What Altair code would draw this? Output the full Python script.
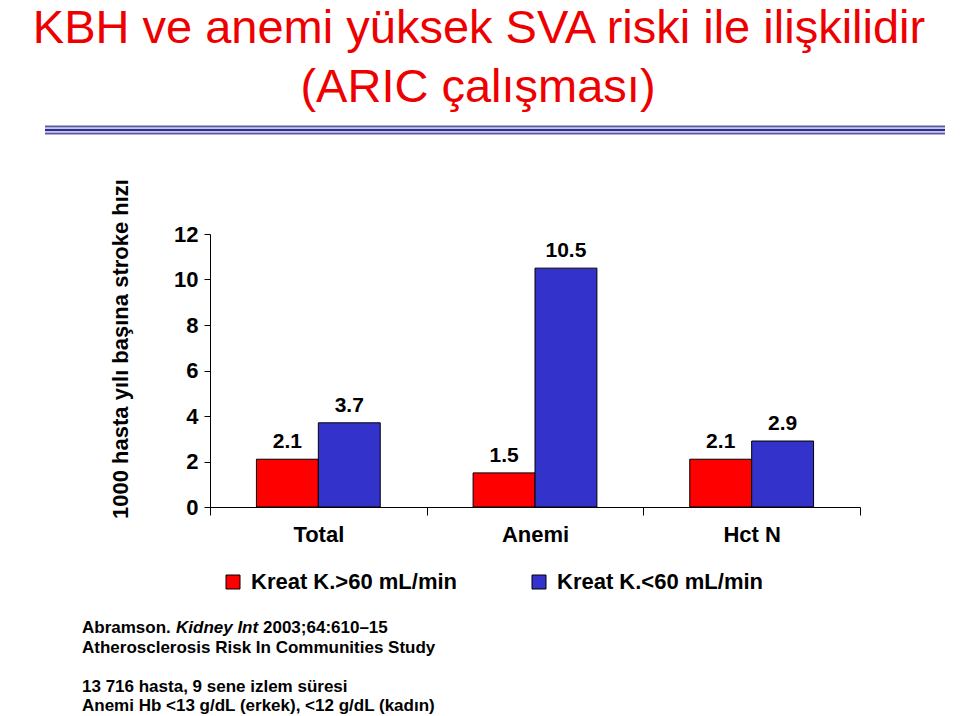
import altair as alt
import pandas as pd

categories = ["Total", "Anemi", "Hct N"]
series = ["Kreat K.>60 mL/min", "Kreat K.<60 mL/min"]
values_high = [2.1, 1.5, 2.1]
values_low = [3.7, 10.5, 2.9]
y_ticks = [0, 2, 4, 6, 8, 10, 12]
colors = ["#ff0000", "#3333cc"]

rows = []
for c, a, b in zip(categories, values_high, values_low):
    rows.append({"cat": c, "series": series[0], "val": a})
    rows.append({"cat": c, "series": series[1], "val": b})
df = pd.DataFrame(rows)

FONT = "Liberation Sans"
W, H = 650, 273
OX, OY = 210, 234  # plot origin within the page

x_enc = alt.X("cat:N", sort=categories, title=None,
              scale=alt.Scale(paddingInner=0, paddingOuter=0),
              axis=alt.Axis(tickBand="extent", labelAngle=0, labelFontSize=22,
                            labelFont=FONT, labelColor="black", labelPadding=9,
                            tickSize=8, tickColor="black", domainColor="black",
                            labelFontWeight="bold"))
xo_enc = alt.XOffset("series:N", sort=series,
                     scale=alt.Scale(paddingInner=0, paddingOuter=0.75))
y_enc = alt.Y("val:Q", title=None,
              scale=alt.Scale(domain=[0, 12], nice=False),
              axis=alt.Axis(values=y_ticks, labelFontSize=22, labelFont=FONT,
                            labelFontWeight="bold",
                            labelColor="black", tickSize=6, tickColor="black",
                            domainColor="black", grid=False, labelPadding=6))
color_enc = alt.Color("series:N", sort=series,
                      scale=alt.Scale(domain=series, range=colors),
                      legend=alt.Legend(title=None, orient="none", direction="horizontal",
                                        legendX=12, legendY=337, symbolType="square",
                                        symbolSize=196, symbolStrokeColor="black",
                                        symbolStrokeWidth=1, symbolOpacity=1,
                                        labelFontSize=22, labelFont=FONT,
                                        labelFontWeight="bold", labelColor="black",
                                        labelLimit=400, columnPadding=70,
                                        symbolOffset=0, labelOffset=7))

base = alt.Chart(df)
bars = base.mark_bar(stroke="black", strokeWidth=1, opacity=1).encode(
    x=x_enc, xOffset=xo_enc, y=y_enc, color=color_enc)
labels = base.mark_text(baseline="alphabetic", dy=-11, fontSize=21, font=FONT,
                        fontWeight="bold", color="black").encode(
    x=alt.X("cat:N", sort=categories), xOffset=xo_enc, y="val:Q",
    text=alt.Text("val:Q", format=".1f"))

one = pd.DataFrame({"k": [0]})


def txt(s, x, y, size, color="black", weight="normal", style="normal", align="left"):
    return alt.Chart(one).mark_text(text=s, fontSize=size, font=FONT, color=color,
                                    fontWeight=weight, fontStyle=style, align=align,
                                    baseline="alphabetic").encode(
        x=alt.value(x - OX), y=alt.value(y - OY))


def rule(y, color, w):
    return alt.Chart(one).mark_rule(color=color, strokeWidth=w).encode(
        x=alt.value(45 - OX), x2=alt.value(945 - OX), y=alt.value(y - OY))


annotations = [
    txt("KBH ve anemi yüksek SVA riski ile ilişkilidir", 479, 43, 47, color="#ee0000", align="center"),
    txt("(ARIC çalışması)", 478, 102, 47, color="#ee0000", align="center"),
    rule(126.5, "#5a5aa8", 2),
    rule(130, "#2a2a9a", 2.5),
    rule(133.5, "#5a5aa8", 2),
    alt.Chart(one).mark_text(text="1000 hasta yılı başına stroke hızı", fontSize=22, font=FONT,
                             fontWeight="bold", color="black", align="center",
                             baseline="middle", angle=270).encode(
        x=alt.value(121 - OX), y=alt.value(349 - OY)),
    txt("Abramson.", 82, 633, 17, weight="bold"),
    txt("Kidney Int", 176, 633, 17, weight="bold", style="italic"),
    txt("2003;64:610–15", 263, 633, 17, weight="bold"),
    txt("Atherosclerosis Risk In Communities Study", 82, 653, 17, weight="bold"),
    txt("13 716 hasta, 9 sene izlem süresi", 82, 692, 17, weight="bold"),
    txt("Anemi Hb <13 g/dL (erkek), <12 g/dL (kadın)", 82, 711, 17, weight="bold"),
]

chart = alt.layer(bars, labels, *annotations).properties(
    width=W, height=H,
    autosize=alt.AutoSizeParams(type="none"),
    padding={"left": OX, "top": OY, "right": 960 - OX - W, "bottom": 716 - OY - H},
    background="white",
).configure_view(stroke=None)

chart.save("out.html", embed_options={"renderer": "svg", "actions": False})
